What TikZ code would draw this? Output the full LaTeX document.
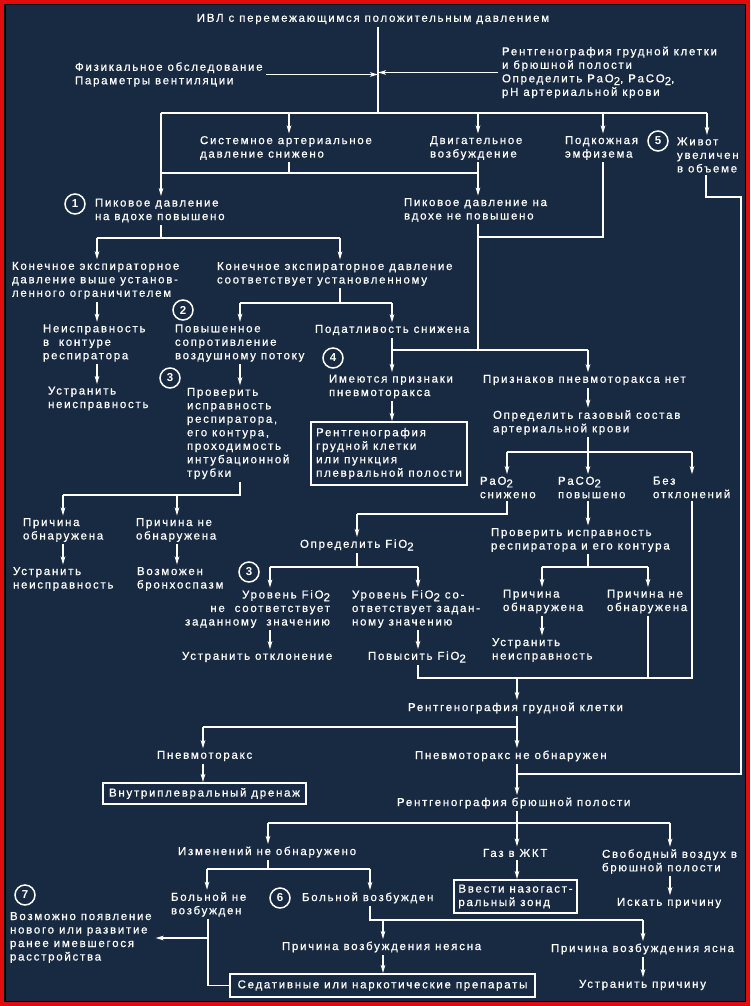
\documentclass[tikz,border=0pt]{standalone}
\usepackage{fontspec}
\setmainfont{Liberation Sans}[LetterSpace=15, UprightFeatures={FakeBold=0.7}]
\usetikzlibrary{arrows.meta}
\definecolor{bg}{RGB}{24,41,66}
\definecolor{framered}{RGB}{225,12,12}
\newcommand\lowtwo{\raisebox{-0.45ex}{2}}
\newcommand\diagfont{\fontsize{11.5pt}{13.5pt}\selectfont}
\tikzset{
 lbl/.style={anchor=west, align=left, inner sep=0pt, outer xsep=0pt, outer ysep=2.5pt, text=white, font=\diagfont},
 lblr/.style={lbl, anchor=east, align=right},
 lblc/.style={lbl, anchor=center, align=center},
 num/.style={circle, draw=white, line width=1.5pt, minimum size=20pt, inner sep=0pt, text=white, font=\bfseries\fontsize{11.5}{11.5}\selectfont},
 boxn/.style={draw=white, line width=1.8pt, inner xsep=4pt, inner ysep=3pt, text=white, font=\diagfont, align=left},
 wire/.style={draw=white, line width=1.8pt},
 arr/.style={wire, -{Stealth[length=8pt,width=4.5pt,inset=2pt]}},
}
\begin{document}
\begin{tikzpicture}[x=1pt,y=-1pt]
\useasboundingbox (0,0) rectangle (750,1006);
\fill[framered] (0,0) rectangle (750,1006);
\fill[black] (4,4) rectangle (746,1002);
\fill[bg] (5.5,5.5) rectangle (744.5,1000.5);

% ---------- nodes ----------
\node[lblc] (title) at (373,19) {ИВЛ с перемежающимся положительным давлением};
\node[lbl] (fiz) at (75,74.5) {Физикальное обследование\\Параметры вентиляции};
\node[lbl] (rent1) at (502,72.5) {Рентгенография грудной клетки\\и брюшной полости\\Определить PaO\lowtwo, PaCO\lowtwo,\\pH артериальной крови};
\node[lbl] (sys) at (200,148) {Системное артериальное\\давление снижено};
\node[lbl] (dvig) at (430,148) {Двигательное\\возбуждение};
\node[lbl] (podk) at (565,148) {Подкожная\\эмфизема};
\node[lbl] (zhiv) at (677,155) {Живот\\увеличен\\в объеме};
\node[num] (n5) at (658,141) {5};
\node[num] (n1) at (75,204) {1};
\node[lbl] (pik1) at (95,210.5) {Пиковое давление\\на вдохе повышено};
\node[lbl] (pik2) at (404,210) {Пиковое давление на\\вдохе не повышено};
\node[lbl] (kon1) at (12,280.5) {Конечное экспираторное\\давление выше установ-\\ленного ограничителем};
\node[lbl] (kon2) at (217,274) {Конечное экспираторное давление\\соответствует установленному};
\node[lbl] (neispr) at (43,343) {Неисправность\\в~ контуре\\респиратора};
\node[lbl] (ustr1) at (48,398.5) {Устранить\\неисправность};
\node[num] (n2) at (183,310) {2};
\node[lbl] (povysh) at (175,343) {Повышенное\\сопротивление\\воздушному потоку};
\node[lbl] (podatl) at (315,330) {Податливость снижена};
\node[num] (n3a) at (170,378) {3};
\node[lbl] (prov1) at (187,433.5) {Проверить\\исправность\\респиратора,\\его контура,\\проходимость\\интубационной\\трубки};
\node[num] (n4) at (333,358) {4};
\node[lbl] (imeyut) at (329,386.5) {Имеются признаки\\пневмоторакса};
\node[boxn, minimum width=156pt, minimum height=63pt] (rg2) at (389,453.5) {Рентгенография\\грудной клетки\\или пункция\\плевральной полости};
\node[lbl] (priz) at (483,380) {Признаков пневмоторакса нет};
\node[lbl] (gas) at (493,422.5) {Определить газовый состав\\артериальной крови};
\node[lbl] (pao) at (480,487.5) {PaO\lowtwo\\снижено};
\node[lbl] (paco) at (558,487.5) {PaCO\lowtwo\\повышено};
\node[lbl] (bez) at (653,487.5) {Без\\отклонений};
\node[lbl] (pr1) at (23,530) {Причина\\обнаружена};
\node[lbl] (prn1) at (136,530) {Причина не\\обнаружена};
\node[lbl] (us2) at (13,579) {Устранить\\неисправность};
\node[lbl] (bronh) at (137,579) {Возможен\\бронхоспазм};
\node[lbl] (fio) at (300,545) {Определить FiO\lowtwo};
\node[num] (n3b) at (249,572) {3};
\node[lblr] (ur1) at (330,609) {Уровень FiO\lowtwo\\не~ соответствует\\заданному~ значению};
\node[lbl] (ur2) at (352,609) {Уровень FiO\lowtwo{} со-\\ответствует задан-\\ному значению};
\node[lbl] (otkl) at (182,657) {Устранить отклонение};
\node[lbl] (pfio) at (368,657) {Повысить FiO\lowtwo};
\node[lbl] (prov2) at (491,540) {Проверить исправность\\респиратора и его контура};
\node[lbl] (pr2) at (503,601.5) {Причина\\обнаружена};
\node[lbl] (prn2) at (607,601.5) {Причина не\\обнаружена};
\node[lbl] (us3) at (492,650) {Устранить\\неисправность};
\node[lbl] (rg3) at (408,708) {Рентгенография грудной клетки};
\node[lbl] (pnm) at (157,756) {Пневмоторакс};
\node[lbl] (pnmn) at (415,756) {Пневмоторакс не обнаружен};
\node[boxn, minimum width=203pt, minimum height=21pt, align=center] (dren) at (204.5,793.5) {Внутриплевральный дренаж};
\node[lbl] (rg4) at (397,803) {Рентгенография брюшной полости};
\node[lbl] (izm) at (178,852) {Изменений не обнаружено};
\node[lbl] (gaz) at (483,853) {Газ в ЖКТ};
\node[lbl] (svob) at (602,861.5) {Свободный воздух в\\брюшной полости};
\node[boxn, minimum width=123pt, minimum height=33pt] (vvod) at (515.5,896.5) {Ввести назогаст-\\ральный зонд};
\node[lbl] (isk) at (617,903) {Искать причину};
\node[lbl] (bne) at (171,904.5) {Больной не\\возбужден};
\node[num] (n6) at (280,898) {6};
\node[lbl] (bvo) at (302,898) {Больной возбужден};
\node[num] (n7) at (25,895) {7};
\node[lbl] (razv) at (10,937.5) {Возможно появление\\нового или развитие\\ранее имевшегося\\расстройства};
\node[lbl] (nyas) at (282,947) {Причина возбуждения неясна};
\node[lbl] (yas) at (551,949) {Причина возбуждения ясна};
\node[boxn, minimum width=305pt, minimum height=23pt, align=center] (sed) at (382.5,985.5) {Седативные или наркотические препараты};
\node[lbl] (uprich) at (579,985) {Устранить причину};

% ---------- junction coordinates ----------
\coordinate (top) at (378,113);
\coordinate (hl) at (161,113); \coordinate (hr) at (707,113);
\coordinate (b1) at (289,113); \coordinate (b2) at (478,113); \coordinate (b3) at (603,113);
\coordinate (c1) at (289,173); \coordinate (c1l) at (161,173); \coordinate (c1r) at (478,173);
\coordinate (d0) at (161,238); \coordinate (dl) at (97,238); \coordinate (dr) at (340,238);
\coordinate (e0) at (340,303); \coordinate (el) at (240,303); \coordinate (er) at (392,303);
\coordinate (f0) at (240,495); \coordinate (fl) at (63,495); \coordinate (fm) at (177,495);
\coordinate (g1) at (478,237); \coordinate (g2) at (603,237); \coordinate (g3) at (478,350);
\coordinate (gl) at (392,350); \coordinate (gr) at (588,350);
\coordinate (h0) at (588,452); \coordinate (hl2) at (507,452); \coordinate (hr2) at (692,452);
\coordinate (i0) at (507,514); \coordinate (il) at (357,514);
\coordinate (k0) at (357,567); \coordinate (kl) at (270,567); \coordinate (kr) at (418,567);
\coordinate (m0) at (588,567); \coordinate (ml) at (542,567); \coordinate (mr) at (648,567);
\coordinate (n0l) at (418,678); \coordinate (n0r) at (692,678); \coordinate (n0m) at (517,678); \coordinate (n0p) at (648,678);
\coordinate (p0) at (517,727); \coordinate (pl) at (203,727);
\coordinate (q1) at (706,197); \coordinate (q2) at (741,197); \coordinate (q3) at (741,774); \coordinate (q4) at (517,774);
\coordinate (r0) at (517,823); \coordinate (rl) at (268,823); \coordinate (rr) at (670,823);
\coordinate (s0) at (268,869); \coordinate (sl) at (207,869); \coordinate (sr) at (370,869);
\coordinate (t0) at (370,920); \coordinate (tm) at (383,920); \coordinate (tr) at (643,920);
\coordinate (u0) at (208,938); \coordinate (u1) at (208,985.5);

% ---------- connectors ----------
\draw[wire] (title.south -| top) -- (top);
\draw[arr, shorten <=3pt] (fiz.east) -- (fiz.east -| top);
\draw[arr, shorten <=4pt] (rent1.west) -- (rent1.west -| top);
\draw[wire] (hl) -- (hr);
\draw[arr] (b1) -- (b1 |- sys.north);
\draw[arr] (b2) -- (b2 |- dvig.north);
\draw[arr] (b3) -- (b3 |- podk.north);
\draw[arr] (hr) -- (hr |- zhiv.north);
\draw[arr] (hl) -- (hl |- pik1.north);
\draw[wire] (sys.south -| c1) -- (c1);
\draw[wire] (c1l) -- (c1r);
\draw[arr] (dvig.south -| c1r) -- (c1r |- pik2.north);
\draw[wire] (pik1.south -| d0) -- (d0);
\draw[wire] (dl) -- (dr);
\draw[arr] (dl) -- (dl |- kon1.north);
\draw[arr] (dr) -- (dr |- kon2.north);
\draw[arr] (kon1.south -| dl) -- (dl |- neispr.north);
\draw[arr] (neispr.south -| dl) -- (dl |- ustr1.north);
\draw[wire] (kon2.south -| e0) -- (e0);
\draw[wire] (el) -- (er);
\draw[arr] (el) -- (el |- povysh.north);
\draw[arr] (er) -- (er |- podatl.north);
\draw[arr] (povysh.south -| el) -- (el |- prov1.north);
\draw[wire] (prov1.south -| f0) -- (f0) -- (fl);
\draw[arr] (fl) -- (fl |- pr1.north);
\draw[arr] (fm) -- (fm |- prn1.north);
\draw[arr] (pr1.south -| fl) -- (fl |- us2.north);
\draw[arr] (prn1.south -| fm) -- (fm |- bronh.north);
\draw[wire] (pik2.south -| g1) -- (g3);
\draw[wire] (podk.south -| g2) -- (g2) -- (g1);
\draw[wire] (gl) -- (gr);
\draw[arr] (podatl.south -| gl) -- (gl |- imeyut.north);
\draw[arr] (gr) -- (gr |- priz.north);
\draw[arr] (imeyut.south -| gl) -- (gl |- rg2.north);
\draw[arr] (priz.south -| gr) -- (gr |- gas.north);
\draw[wire] (gas.south -| h0) -- (h0);
\draw[wire] (hl2) -- (hr2);
\draw[arr] (hl2) -- (hl2 |- pao.north);
\draw[arr] (h0) -- (h0 |- paco.north);
\draw[arr] (hr2) -- (hr2 |- bez.north);
\draw[wire] (pao.south -| i0) -- (i0) -- (il);
\draw[arr] (il) -- (il |- fio.north);
\draw[wire] (fio.south -| k0) -- (k0);
\draw[wire] (kl) -- (kr);
\draw[arr] (kl) -- (kl |- ur1.north);
\draw[arr] (kr) -- (kr |- ur2.north);
\draw[arr] (ur1.south -| kl) -- (kl |- otkl.north);
\draw[arr] (ur2.south -| kr) -- (kr |- pfio.north);
\draw[arr] (paco.south -| h0) -- (h0 |- prov2.north);
\draw[wire] (prov2.south -| m0) -- (m0);
\draw[wire] (ml) -- (mr);
\draw[arr] (ml) -- (ml |- pr2.north);
\draw[arr] (mr) -- (mr |- prn2.north);
\draw[arr] (pr2.south -| ml) -- (ml |- us3.north);
\draw[wire] (pfio.south -| n0l) -- (n0l) -- (n0r) -- (bez.south -| n0r);
\draw[wire] (prn2.south -| n0p) -- (n0p);
\draw[arr] (n0m) -- (n0m |- rg3.north);
\draw[wire] (rg3.south -| p0) -- (p0) -- (pl);
\draw[arr] (pl) -- (pl |- pnm.north);
\draw[arr] (p0) -- (p0 |- pnmn.north);
\draw[arr] (pnm.south -| pl) -- (pl |- dren.north);
\draw[wire] (zhiv.south -| q1) -- (q1) -- (q2) -- (q3) -- (q4);
\draw[arr] (pnmn.south -| q4) -- (q4 |- rg4.north);
\draw[wire] (rg4.south -| r0) -- (r0);
\draw[wire] (rl) -- (rr);
\draw[arr] (rl) -- (rl |- izm.north);
\draw[arr] (r0) -- (r0 |- gaz.north);
\draw[arr] (rr) -- (rr |- svob.north);
\draw[arr] (gaz.south -| r0) -- (r0 |- vvod.north);
\draw[arr] (svob.south -| rr) -- (rr |- isk.north);
\draw[wire] (izm.south -| s0) -- (s0);
\draw[wire] (sl) -- (sr);
\draw[arr] (sl) -- (sl |- bne.north);
\draw[arr] (sr) -- (sr |- bvo.north);
\draw[wire] (bvo.south -| t0) -- (t0) -- (tr);
\draw[arr] (tm) -- (tm |- nyas.north);
\draw[arr] (tr) -- (tr |- yas.north);
\draw[arr] (nyas.south -| tm) -- (tm |- sed.north);
\draw[arr] (yas.south -| tr) -- (tr |- uprich.north);
\draw[wire] (bne.south -| u0) -- (u1) -- (sed.west);
\draw[arr, shorten >=4pt] (u0) -- (u0 -| razv.east);
\end{tikzpicture}
\end{document}
